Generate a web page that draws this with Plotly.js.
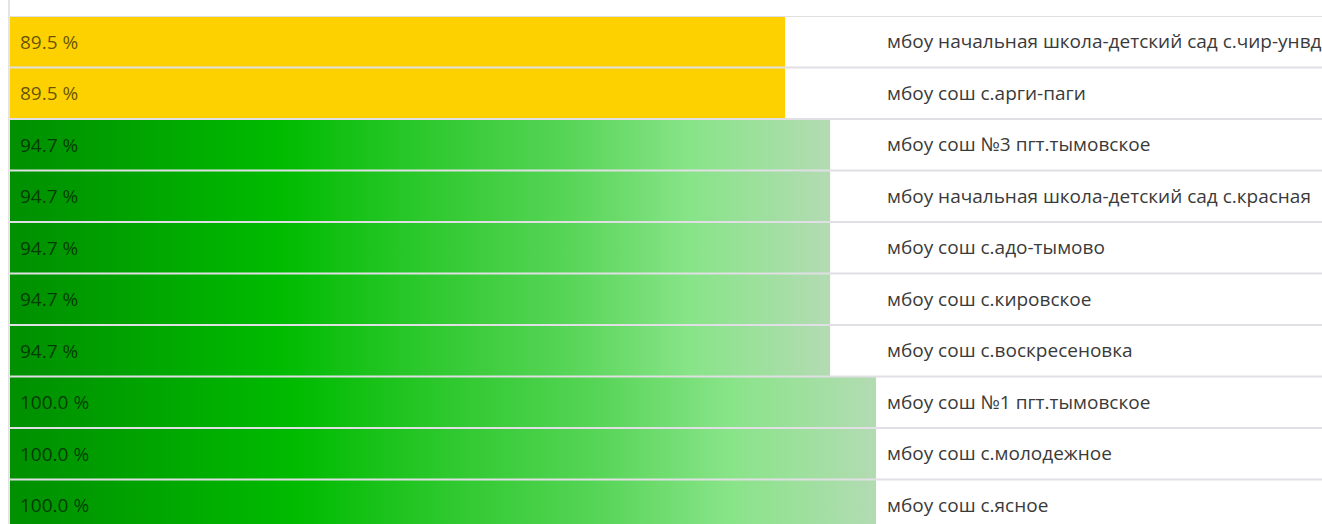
<!DOCTYPE html>
<html>
<head>
<meta charset="utf-8">
<script src="https://cdn.plot.ly/plotly-3.0.1.min.js"></script>
<style>html,body{margin:0;padding:0;background:#fff;}#chart{width:1322px;height:524px;}</style>
</head>
<body>
<div id="chart"></div>
<script>
const schools = [
  "мбоу начальная школа-детский сад с.чир-унвд",
  "мбоу сош с.арги-паги",
  "мбоу сош №3 пгт.тымовское",
  "мбоу начальная школа-детский сад с.красная",
  "мбоу сош с.адо-тымово",
  "мбоу сош с.кировское",
  "мбоу сош с.воскресеновка",
  "мбоу сош №1 пгт.тымовское",
  "мбоу сош с.молодежное",
  "мбоу сош с.ясное"
];
const percents = [89.5, 89.5, 94.7, 94.7, 94.7, 94.7, 94.7, 100.0, 100.0, 100.0];
const colorThreshold = 90;

const yellow = "#fdd000";
const greenScale = [[0, "#008f00"], [0.33, "#00bb00"], [0.5, "#2cc82c"], [0.68, "#57d557"], [0.83, "#88e488"], [1, "#b3dbb3"]];

const traces = [];
percents.forEach((v, i) => {
  const t = {
    type: "scatter", mode: "lines",
    x: [0, v, v, 0, 0],
    y: [i - 0.5, i - 0.5, i + 0.5, i + 0.5, i - 0.5],
    fill: "toself", line: {width: 0}, hoverinfo: "skip", showlegend: false
  };
  if (v < colorThreshold) {
    t.fillcolor = yellow;
  } else {
    t.fillgradient = {type: "horizontal", colorscale: greenScale, start: 0, stop: v};
  }
  traces.push(t);
});

const annotations = percents.map((v, i) => ({
  x: 0, y: i, xref: "x", yref: "y", xanchor: "left", yanchor: "middle",
  xshift: 8, showarrow: false, text: v.toFixed(1) + " %",
  font: {family: "Open Sans, Noto Sans, sans-serif", size: 19, color: "rgba(0,0,0,0.62)"}
}));

const shapes = [];
for (let i = 0; i <= schools.length; i++) {
  shapes.push({type: "line", xref: "paper", yref: "y", x0: 0, x1: 1312 / 866, y0: i - 0.5, y1: i - 0.5,
    line: {color: "#e0e0e4", width: 2}, layer: "above"});
}
shapes.push({type: "line", xref: "paper", yref: "paper", x0: -0.0012, x1: -0.0012, y0: -0.1, y1: 1.04,
  line: {color: "#dcdcdc", width: 1.5}, layer: "above"});

const layout = {
  width: 1322, height: 524,
  margin: {l: 10, r: 446, t: 16, b: 0},
  paper_bgcolor: "#fff", plot_bgcolor: "#fff",
  showlegend: false,
  xaxis: {range: [0, 100], visible: false, fixedrange: true},
  yaxis: {
    range: [9.364, -0.5], side: "right", tickvals: schools.map((_, i) => i), ticktext: schools,
    showgrid: false, zeroline: false, showline: false, ticks: "", ticklabelstandoff: 10,
    tickfont: {family: "Open Sans, Noto Sans, sans-serif", size: 19, color: "#3a3a3a"}, fixedrange: true
  },
  shapes: shapes,
  annotations: annotations
};

Plotly.newPlot("chart", traces, layout, {displayModeBar: false, staticPlot: true});
</script>
</body>
</html>
